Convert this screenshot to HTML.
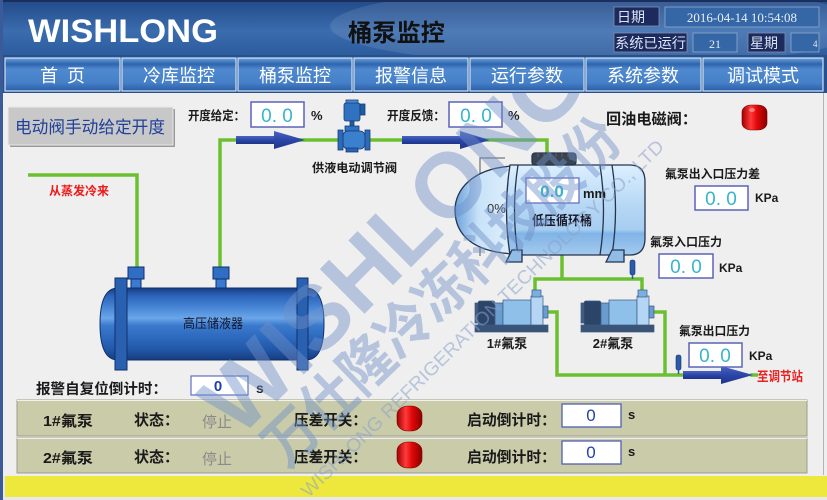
<!DOCTYPE html>
<html><head><meta charset="utf-8">
<style>
html,body{margin:0;padding:0;width:827px;height:500px;overflow:hidden;background:#efefef}
svg{display:block}
text{font-family:"Liberation Sans","Noto Sans CJK SC",sans-serif}
.sf{font-family:"Liberation Serif","Noto Serif CJK SC",serif}
.b{font-weight:bold}
</style></head><body>
<svg width="827" height="500" viewBox="0 0 827 500" xmlns="http://www.w3.org/2000/svg">
<defs>
  <linearGradient id="hdr" x1="0" y1="0" x2="0" y2="1">
    <stop offset="0" stop-color="#224a88"/><stop offset="0.55" stop-color="#3a6cae"/><stop offset="1" stop-color="#2b5b9c"/>
  </linearGradient>
  <linearGradient id="btn" x1="0" y1="0" x2="0" y2="1">
    <stop offset="0" stop-color="#6aa2de"/><stop offset="0.18" stop-color="#2f64ac"/><stop offset="0.35" stop-color="#4f8ad0"/><stop offset="0.75" stop-color="#4580c8"/><stop offset="1" stop-color="#2a5ea6"/>
  </linearGradient>
  <linearGradient id="rcv" x1="0" y1="0" x2="0" y2="1">
    <stop offset="0" stop-color="#163c80"/><stop offset="0.1" stop-color="#2a62b8"/><stop offset="0.28" stop-color="#4a88d8"/><stop offset="0.42" stop-color="#6aa6e8"/><stop offset="0.52" stop-color="#3a7acc"/><stop offset="0.68" stop-color="#2e6abf"/><stop offset="0.85" stop-color="#2258a8"/><stop offset="1" stop-color="#163c80"/>
  </linearGradient>
  <linearGradient id="lpt" x1="0" y1="0" x2="0" y2="1">
    <stop offset="0" stop-color="#dcefff"/><stop offset="0.45" stop-color="#b6d8f4"/><stop offset="0.72" stop-color="#a6cdf0"/><stop offset="0.76" stop-color="#80b4e6"/><stop offset="1" stop-color="#a4caee"/>
  </linearGradient>
  <linearGradient id="dome" x1="0" y1="0" x2="1" y2="0">
    <stop offset="0" stop-color="#6aa2dc"/><stop offset="0.4" stop-color="#c8e2f8"/><stop offset="1" stop-color="#e0f0fc"/>
  </linearGradient>
  <linearGradient id="red" x1="0" y1="0" x2="1" y2="0">
    <stop offset="0" stop-color="#a00000"/><stop offset="0.35" stop-color="#ff3a3a"/><stop offset="0.6" stop-color="#e00808"/><stop offset="1" stop-color="#8a0000"/>
  </linearGradient>
  <linearGradient id="arr" x1="0" y1="0" x2="0" y2="1">
    <stop offset="0" stop-color="#4a64c0"/><stop offset="0.5" stop-color="#2c46a8"/><stop offset="1" stop-color="#1e3488"/>
  </linearGradient>
  <clipPath id="cc"><rect x="3" y="93" width="824" height="407"/></clipPath>
</defs>

<!-- header -->
<rect x="0" y="0" width="827" height="57" fill="url(#hdr)"/>
<ellipse cx="600" cy="26" rx="270" ry="40" fill="#ffffff" opacity="0.1"/>
<rect x="0" y="0" width="827" height="2" fill="#1b2f5e"/>
<text x="28" y="42" font-size="32" class="b" fill="#ffffff" textLength="190" lengthAdjust="spacingAndGlyphs">WISHLONG</text>
<text x="348" y="41" font-size="24" class="b" fill="#111111" textLength="97" lengthAdjust="spacingAndGlyphs">桶泵监控</text>

<rect x="614" y="7" width="45" height="19" fill="#1d2a5e" stroke="#8090b0" stroke-width="0.8"/>
<text x="617" y="22" font-size="14" fill="#dde4f4">日期</text>
<rect x="665" y="7" width="154" height="20" fill="#3566a6" stroke="#90aad0" stroke-width="0.8"/>
<text x="742" y="22" font-size="13" class="sf" fill="#e8eef8" text-anchor="middle">2016-04-14 10:54:08</text>
<rect x="614" y="33" width="73" height="19" fill="#1d2a5e" stroke="#8090b0" stroke-width="0.8"/>
<text x="615" y="48" font-size="14" fill="#dde4f4" textLength="71" lengthAdjust="spacingAndGlyphs">系统已运行</text>
<rect x="693" y="33" width="44" height="19" fill="#3566a6" stroke="#90aad0" stroke-width="0.8"/>
<text x="715" y="48" font-size="12" class="sf" fill="#e8eef8" text-anchor="middle">21</text>
<rect x="748" y="33" width="37" height="19" fill="#1d2a5e" stroke="#8090b0" stroke-width="0.8"/>
<text x="750" y="48" font-size="14" fill="#dde4f4">星期</text>
<rect x="791" y="33" width="28" height="19" fill="#3566a6" stroke="#90aad0" stroke-width="0.8"/>
<text x="813" y="47" font-size="9" class="sf" fill="#e8eef8">4</text>

<!-- nav -->
<rect x="0" y="55" width="827" height="38" fill="#27508f"/>
<g stroke="#d2e2f4" stroke-width="1.2" fill="url(#btn)">
  <rect x="5" y="58" width="115" height="33"/>
  <rect x="122" y="58" width="114" height="33"/>
  <rect x="238" y="58" width="114" height="33"/>
  <rect x="354" y="58" width="114" height="33"/>
  <rect x="470" y="58" width="114" height="33"/>
  <rect x="586" y="58" width="115" height="33"/>
  <rect x="703" y="58" width="120" height="33"/>
</g>
<g class="sf" font-size="18" fill="#ffffff" text-anchor="middle">
  <text x="49" y="82">首</text><text x="76" y="82">页</text>
  <text x="179" y="82">冷库监控</text>
  <text x="295" y="82">桶泵监控</text>
  <text x="411" y="82">报警信息</text>
  <text x="527" y="82">运行参数</text>
  <text x="643" y="82">系统参数</text>
  <text x="763" y="82">调试模式</text>
</g>

<!-- content -->
<rect x="0" y="93" width="827" height="383" fill="#efefef"/>
<rect x="823" y="93" width="1" height="382" fill="#b4b4b4"/>

<!-- manual button -->
<rect x="10" y="109" width="165" height="38" fill="#9a9a9a"/>
<rect x="8" y="107" width="165" height="38" fill="#c8c8c8" stroke="#e8e8e8" stroke-width="1"/>
<text x="90" y="133" font-size="17" fill="#20409a" text-anchor="middle" textLength="150" lengthAdjust="spacingAndGlyphs">电动阀手动给定开度</text>

<!-- pipes -->
<g stroke="#6cc030" stroke-width="3.5" fill="none">
  <polyline points="28,175 137,175 137,270"/>
  <polyline points="220,270 220,140 547,140 547,155"/>
  <polyline points="562,255 562,279"/>
  <polyline points="535,295 535,279 642,279 642,295"/>
  <polyline points="548,312 557,312 557,375 690,375"/>
  <polyline points="653,312 665,312 665,375"/>
  <line x1="750" y1="375" x2="758" y2="375"/>
</g>

<!-- arrows -->
<rect x="236" y="136" width="42" height="8" fill="url(#arr)"/>
<polygon points="274,131 305,140 274,149" fill="url(#arr)"/>
<rect x="402" y="136" width="62" height="8" fill="url(#arr)"/>
<polygon points="460,131 490,140 460,149" fill="url(#arr)"/>
<rect x="683" y="371" width="42" height="8" fill="url(#arr)"/>
<polygon points="721,366 753,375 721,384" fill="url(#arr)"/>

<!-- labels top -->
<text x="188" y="120" font-size="12.5" class="b" fill="#1a1a1a" textLength="57" lengthAdjust="spacingAndGlyphs">开度给定：</text>
<rect x="251" y="102" width="53" height="25" fill="#ffffff" stroke="#5a62b8" stroke-width="1.5"/>
<text x="277" y="122" font-size="19" fill="#38b4cc" text-anchor="middle">0. 0</text>
<text x="311" y="120" font-size="13" class="b" fill="#1a1a1a">%</text>

<text x="387" y="120" font-size="12.5" class="b" fill="#1a1a1a" textLength="58" lengthAdjust="spacingAndGlyphs">开度反馈：</text>
<rect x="449" y="102" width="53" height="25" fill="#ffffff" stroke="#5a62b8" stroke-width="1.5"/>
<text x="476" y="122" font-size="19" fill="#38b4cc" text-anchor="middle">0. 0</text>
<text x="508" y="120" font-size="13" class="b" fill="#1a1a1a">%</text>

<text x="606" y="124" font-size="15" class="b" fill="#1a1a1a" textLength="91" lengthAdjust="spacingAndGlyphs">回油电磁阀：</text>
<rect x="742" y="105" width="25" height="25" rx="9" ry="7" fill="url(#red)" stroke="#7a0000" stroke-width="0.6"/>
<ellipse cx="752" cy="110" rx="3" ry="2" fill="#ff9090" opacity="0.8"/>

<!-- valve -->
<g stroke="#173d7c" stroke-width="0.8">
  <rect x="346" y="100" width="12" height="4" fill="#4a8ad0"/>
  <rect x="344" y="103" width="16" height="18" rx="2" fill="#2f72c0"/>
  <rect x="360" y="104" width="5" height="11" fill="#1f5aa0"/>
  <rect x="350" y="121" width="4" height="6" fill="#2a5aa0"/>
  <rect x="345" y="126" width="14" height="5" fill="#2f72c0"/>
  <rect x="343" y="131" width="22" height="18" rx="5" fill="#3a80cc"/>
  <rect x="338" y="130" width="5" height="20" fill="#2f6ab8"/>
  <rect x="365" y="130" width="5" height="20" fill="#2f6ab8"/>
  <rect x="346" y="148" width="12" height="4" fill="#2a62b0"/>
</g>
<text x="312" y="172" font-size="12" class="b" fill="#1a1a1a" textLength="85" lengthAdjust="spacingAndGlyphs">供液电动调节阀</text>
<text x="49" y="195" font-size="12" class="b" fill="#f01818" textLength="60" lengthAdjust="spacingAndGlyphs">从蒸发冷来</text>

<!-- receiver -->
<g stroke="#10306a" stroke-width="1">
  <rect x="128" y="267" width="16" height="12" fill="#2f6ec4"/>
  <rect x="131" y="279" width="10" height="10" fill="#3a7ad0"/>
  <rect x="213" y="267" width="16" height="12" fill="#2f6ec4"/>
  <rect x="216" y="279" width="10" height="10" fill="#3a7ad0"/>
  <path d="M118,288 L306,288 Q324,288 324,324 Q324,360 306,360 L118,360 Q100,360 100,324 Q100,288 118,288 Z" fill="url(#rcv)"/>
  <rect x="115" y="278" width="12" height="92" fill="#2a60b0"/>
  <rect x="297" y="278" width="11" height="92" fill="#2a60b0"/>
</g>
<text x="213" y="328" font-size="13" fill="#14142a" text-anchor="middle" textLength="60" lengthAdjust="spacingAndGlyphs">高压储液器</text>

<text x="36" y="394" font-size="14.5" class="b" fill="#1a1a1a" textLength="131" lengthAdjust="spacingAndGlyphs">报警自复位倒计时：</text>
<rect x="191" y="376" width="57" height="19" fill="#ffffff" stroke="#6070c0" stroke-width="1.2"/>
<text x="218" y="391" font-size="15" class="b" fill="#2040b0" text-anchor="middle">0</text>
<text x="256" y="393" font-size="14" class="b" fill="#1a1a1a">s</text>

<!-- low pressure tank -->
<polyline points="505,158 480,158 480,256" fill="none" stroke="#777777" stroke-width="1.3"/>
<g stroke="#25344f" stroke-width="1.3">
  <path d="M514,166 C472,168 455,190 455,210 C455,234 472,252 514,254 Z" fill="url(#dome)"/>
  <path d="M510,165 L630,165 Q645,165 645,182 L645,238 Q645,255 630,255 L510,255 Q503,210 510,165 Z" fill="url(#lpt)"/>
  <path d="M518,165 Q511,210 518,255" fill="none"/>
  <path d="M600,165 Q607,210 600,255" fill="none"/>
  <path d="M612,165 Q619,210 612,255" fill="none"/>
  <path d="M506,262 L512,250 L522,250 L522,262 Z" fill="#90bce6"/>
  <path d="M606,262 L612,250 L624,250 L624,262 Z" fill="#90bce6"/>
  <rect x="532" y="153" width="44" height="12" rx="3" fill="#3a4450"/>
</g>
<g stroke="#5a6470" stroke-width="1">
  <line x1="538" y1="153" x2="538" y2="157"/><line x1="544" y1="153" x2="544" y2="157"/><line x1="550" y1="153" x2="550" y2="157"/><line x1="556" y1="153" x2="556" y2="157"/><line x1="562" y1="153" x2="562" y2="157"/><line x1="568" y1="153" x2="568" y2="157"/>
</g>
<text x="487" y="213" font-size="13" fill="#333333">0%</text>
<rect x="526" y="178" width="53" height="25" fill="#ffffff" stroke="#6a70c0" stroke-width="1.3"/>
<text x="552" y="197" font-size="17" class="b" fill="#38b4cc" text-anchor="middle">0.0</text>
<text x="583" y="198" font-size="13" class="b" fill="#1a1a1a">mm</text>
<text x="562" y="225" font-size="13" class="b" fill="#1a1a2a" text-anchor="middle" textLength="60" lengthAdjust="spacingAndGlyphs">低压循环桶</text>

<!-- pumps -->
<g stroke="#3a5a80" stroke-width="0.7">
  <g>
    <rect x="475" y="325" width="73" height="7" fill="#3a5478"/>
    <rect x="475" y="303" width="5" height="20" fill="#445c80"/>
    <rect x="478" y="301" width="17" height="24" rx="2" fill="#2c4468"/>
    <rect x="495" y="303" width="8" height="22" fill="#6a9cd0"/>
    <rect x="503" y="300" width="28" height="25" fill="#8ec0ea"/>
    <rect x="531" y="296" width="12" height="29" fill="#b4d6f4"/>
    <rect x="532" y="290" width="9" height="7" fill="#7ab0e0"/>
    <rect x="543" y="306" width="5" height="12" fill="#6a9cd0"/>
  </g>
  <g>
    <rect x="581" y="325" width="73" height="7" fill="#3a5478"/>
    <rect x="581" y="303" width="5" height="20" fill="#445c80"/>
    <rect x="584" y="301" width="17" height="24" rx="2" fill="#2c4468"/>
    <rect x="601" y="303" width="8" height="22" fill="#6a9cd0"/>
    <rect x="609" y="300" width="28" height="25" fill="#8ec0ea"/>
    <rect x="637" y="296" width="12" height="29" fill="#b4d6f4"/>
    <rect x="638" y="290" width="9" height="7" fill="#7ab0e0"/>
    <rect x="649" y="306" width="5" height="12" fill="#6a9cd0"/>
  </g>
</g>
<text x="507" y="348" font-size="13" class="b" fill="#1a1a1a" text-anchor="middle">1#氟泵</text>
<text x="613" y="348" font-size="13" class="b" fill="#1a1a1a" text-anchor="middle">2#氟泵</text>

<!-- sensors -->
<g fill="#2a5aa8" stroke="#18346a" stroke-width="0.6">
  <rect x="630" y="260" width="5" height="15" rx="2"/>
  <rect x="676" y="355" width="5" height="15" rx="2"/>
</g>
<line x1="632.5" y1="275" x2="632.5" y2="279" stroke="#2a5aa8" stroke-width="1.5"/>
<line x1="678.5" y1="370" x2="678.5" y2="374" stroke="#2a5aa8" stroke-width="1.5"/>

<text x="757" y="381" font-size="13" class="b" fill="#e82020" textLength="46" lengthAdjust="spacingAndGlyphs">至调节站</text>

<!-- pressure readouts -->
<text x="665" y="178" font-size="12" class="b" fill="#1a1a1a" textLength="95" lengthAdjust="spacingAndGlyphs">氟泵出入口压力差</text>
<rect x="695" y="186" width="53" height="24" fill="#ffffff" stroke="#5a62b8" stroke-width="1.5"/>
<text x="721" y="205" font-size="19" fill="#38b4cc" text-anchor="middle">0. 0</text>
<text x="755" y="202" font-size="12" class="b" fill="#1a1a1a">KPa</text>

<text x="650" y="246" font-size="12" class="b" fill="#1a1a1a" textLength="72" lengthAdjust="spacingAndGlyphs">氟泵入口压力</text>
<rect x="659" y="254" width="54" height="24" fill="#ffffff" stroke="#5a62b8" stroke-width="1.5"/>
<text x="686" y="273" font-size="19" fill="#38b4cc" text-anchor="middle">0. 0</text>
<text x="719" y="272" font-size="12" class="b" fill="#1a1a1a">KPa</text>

<text x="679" y="335" font-size="12" class="b" fill="#1a1a1a" textLength="71" lengthAdjust="spacingAndGlyphs">氟泵出口压力</text>
<rect x="689" y="343" width="53" height="24" fill="#ffffff" stroke="#5a62b8" stroke-width="1.5"/>
<text x="715" y="362" font-size="19" fill="#38b4cc" text-anchor="middle">0. 0</text>
<text x="749" y="360" font-size="12" class="b" fill="#1a1a1a">KPa</text>

<!-- bottom table -->
<rect x="17" y="400" width="790" height="36" fill="#c9cba9" stroke="#9c9e8a" stroke-width="1"/>
<line x1="17" y1="400.5" x2="807" y2="400.5" stroke="#f2f2ea" stroke-width="1"/>
<rect x="17" y="438" width="790" height="35" fill="#c9cba9" stroke="#9c9e8a" stroke-width="1"/>
<line x1="17" y1="438.5" x2="807" y2="438.5" stroke="#f2f2ea" stroke-width="1"/>

<g font-size="15" class="b" fill="#1a1a1a">
  <text x="43" y="426" textLength="50" lengthAdjust="spacingAndGlyphs">1#氟泵</text>
  <text x="134" y="425">状态：</text>
  <text x="294" y="425" textLength="73" lengthAdjust="spacingAndGlyphs">压差开关：</text>
  <text x="467" y="425" textLength="89" lengthAdjust="spacingAndGlyphs">启动倒计时：</text>
  <text x="43" y="463" textLength="50" lengthAdjust="spacingAndGlyphs">2#氟泵</text>
  <text x="134" y="462">状态：</text>
  <text x="294" y="462" textLength="73" lengthAdjust="spacingAndGlyphs">压差开关：</text>
  <text x="467" y="462" textLength="89" lengthAdjust="spacingAndGlyphs">启动倒计时：</text>
</g>
<text x="202" y="427" font-size="15" fill="#8a8a8a">停止</text>
<text x="202" y="464" font-size="15" fill="#8a8a8a">停止</text>

<rect x="397" y="406" width="25" height="25" rx="11" ry="9" fill="url(#red)" stroke="#7a0000" stroke-width="0.6"/>
<rect x="397" y="442" width="25" height="26" rx="11" ry="9" fill="url(#red)" stroke="#7a0000" stroke-width="0.6"/>

<rect x="562" y="404" width="59" height="23" fill="#ffffff" stroke="#5060b0" stroke-width="1.3"/>
<text x="591" y="421" font-size="17" fill="#2040b0" text-anchor="middle">0</text>
<text x="628" y="419" font-size="13" class="b" fill="#1a1a1a">s</text>
<rect x="562" y="441" width="59" height="23" fill="#ffffff" stroke="#5060b0" stroke-width="1.3"/>
<text x="591" y="458" font-size="17" fill="#2040b0" text-anchor="middle">0</text>
<text x="628" y="456" font-size="13" class="b" fill="#1a1a1a">s</text>

<!-- yellow bar -->
<rect x="0" y="476" width="827" height="24" fill="#e8e8e8"/>
<rect x="5" y="476" width="822" height="21" fill="#eee83c"/>

<!-- left border -->
<rect x="0" y="0" width="3" height="500" fill="#3a5a98"/>

<!-- watermark -->
<g clip-path="url(#cc)">
  <text x="0" y="0" transform="translate(393,240) rotate(-45)" font-size="92" class="b" fill="#6f90c8" opacity="0.45" text-anchor="middle" textLength="500" lengthAdjust="spacingAndGlyphs" dy="32">WISHLONG</text>
  <text x="0" y="0" transform="translate(442,292) rotate(-44)" font-size="58" class="b" fill="#6f90c8" opacity="0.45" text-anchor="middle" textLength="470" lengthAdjust="spacingAndGlyphs" dy="20">万仕隆冷冻科技股份</text>
  <text x="0" y="0" transform="translate(482,318) rotate(-44.5)" font-size="19" fill="#8aa2cc" opacity="0.55" text-anchor="middle" textLength="500" lengthAdjust="spacingAndGlyphs" dy="7">WISHLONG REFRIGERATION TECHNOLOGY CO., LTD</text>
</g>
</svg>
</body></html>
